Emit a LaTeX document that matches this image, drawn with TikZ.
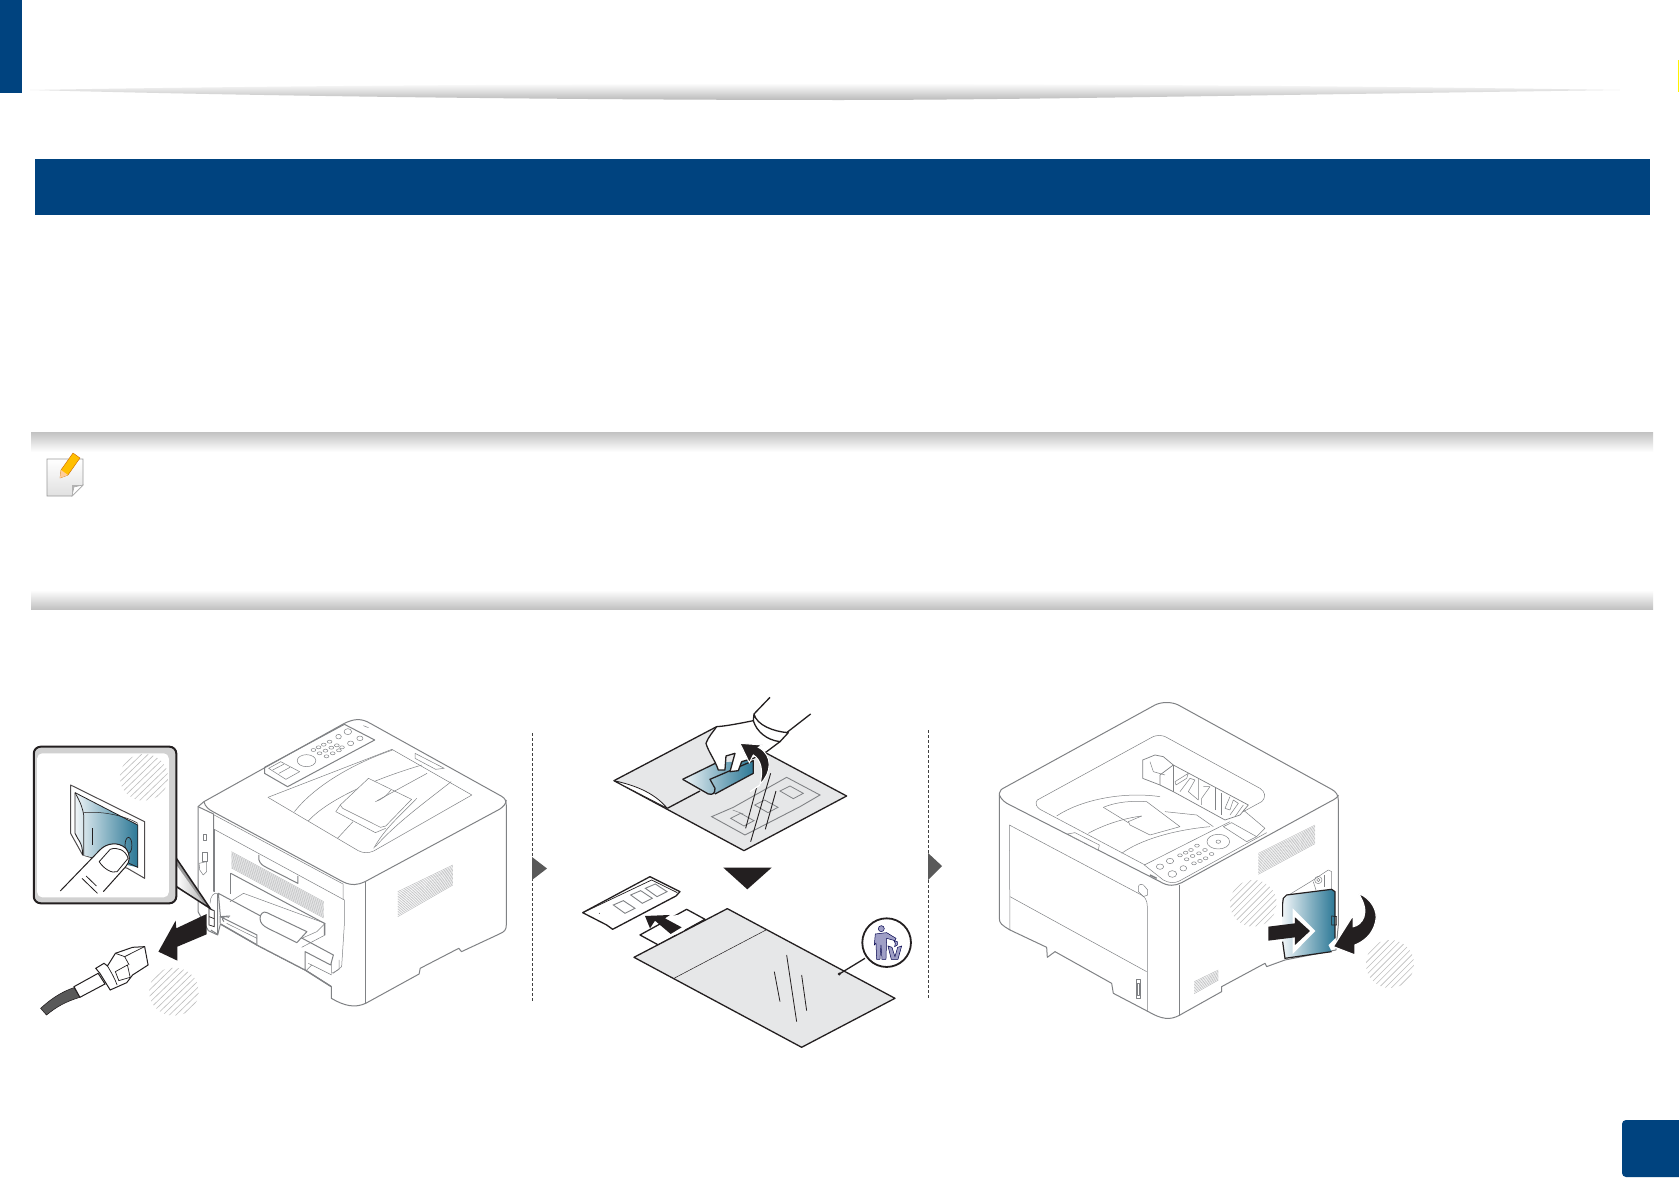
\documentclass[tikz,border=0pt]{standalone}
\usepackage{xcolor}
\definecolor{bandblue}{HTML}{00437F}
\definecolor{ink}{HTML}{231F20}
\definecolor{sheet}{HTML}{E6E7E8}
\definecolor{tealA}{HTML}{F0F5F8}
\definecolor{tealB}{HTML}{2C7896}
\definecolor{prline}{HTML}{808285}
\definecolor{hatchc}{HTML}{BEBEBE}
\tikzset{
  pr/.style={draw=prline,line width=1pt,line join=round},
  prt/.style={draw=prline,line width=.5pt,line join=round},
  vent/.style={draw=prline!60,line width=.4pt},
  inkline/.style={draw=ink,line width=1.3pt,line join=round},
  inkfill/.style={fill=ink,draw=none},
  graytri/.style={fill=black!65,draw=none},
  sep/.style={draw=black!75,line width=.7pt,dash pattern=on 3pt off 2pt},
  teal/.style={left color=tealA,right color=tealB,middle color=tealB!55!white}
}
\newcommand{\hatchdisc}[3]{%
  \begin{scope}
    \clip (#1,#2) circle (#3);
    \foreach \k in {-8,...,8}{
      \draw[hatchc,line width=.6pt] ({#1+\k*19-#3},{#2+#3}) -- ({#1+\k*19+#3},{#2-#3});
    }
  \end{scope}}
\begin{document}
\begin{tikzpicture}[x=1pt,y=-1pt]
\useasboundingbox (0,0) rectangle (1679,1191);
\fill[white] (0,0) rectangle (1679,1191);
% header
\fill[bandblue] (0,0) rectangle (22,93);
\begin{scope}
  \clip (30,90) .. controls (500,82) and (1100,82) .. (1620,90) .. controls (1200,96) and (1000,100) .. (840,100) .. controls (600,100) and (300,97) .. (30,90) -- cycle;
  \shade[top color=white,bottom color=black!27] (30,83) rectangle (1620,100);
\end{scope}
\fill[yellow] (1678,60) rectangle (1679,92);
\fill[bandblue] (35,159) rectangle (1650,215);
% note bands
\shade[top color=black!24,bottom color=white] (31,432) rectangle (1653,452);
\shade[top color=white,bottom color=black!24] (31,590) rectangle (1653,609);
% note icon
\shade[top color=white,bottom color=black!12,draw=black!40,line width=.8pt] (47,459) -- (83,459) -- (83,485) -- (72,496) -- (47,496) -- cycle;
\fill[black!30] (72,496) -- (72,485) -- (83,485) -- cycle;
\fill[white,draw=black!35,line width=.5pt] (72,496) -- (74,487) -- (83,485) -- cycle;
\fill[orange!50!yellow,draw=orange!80!black,line width=.4pt] (60,478) -- (61,470) -- (73,453) -- (80,458) -- (68,475) -- cycle;
\fill[orange!40!white] (60,478) -- (61,470) -- (68,475) -- cycle;
% page box
\fill[bandblue,rounded corners=4pt] (1622,1120) rectangle (1690,1177);
% separators
\draw[sep] (532,733) -- (532,1001);
\draw[sep] (928,730) -- (928,998);
\fill[graytri] (532,857) -- (547,868.5) -- (532,880) -- cycle;
\fill[graytri] (928,853) -- (942,866) -- (928,880) -- cycle;

% ================= PANEL 1
\begin{scope}[shift={(0,690)},xscale=.3444,yscale=.3333]
  % printer body
  \draw[pr,fill=white] (592,335) -- (1000,100) .. controls (1030,85) and (1050,85) .. (1075,100) -- (1455,318) .. controls (1468,325) and (1470,335) .. (1470,345) -- (1470,705) .. controls (1470,720) and (1465,725) .. (1450,732) -- (1340,785) -- (1332,775) -- (1220,835) -- (1217,852) -- (1062,940) .. controls (1030,955) and (1000,948) .. (962,925) -- (962,890) -- (886,840) -- (746,765) -- (640,702) -- (632,735) -- (605,722) -- (575,665) -- (575,350) -- cycle;
  \draw[pr,line width=1.4pt] (640,702) -- (746,765) -- (886,840) -- (962,890);
  \draw[pr] (592,335) .. controls (596,350) and (605,358) .. (620,366) -- (995,575) .. controls (1020,588) and (1040,585) .. (1060,575) -- (1450,358) .. controls (1462,350) and (1470,340) .. (1470,330);
  \draw[pr] (1060,575) -- (1060,940);
  \draw[pr] (575,350) -- (620,372) -- (620,605);
  \draw[prt] (622,418) -- (1000,630) -- (1000,700) -- (992,830) -- (968,850);
  \draw[prt] (622,375) -- (996,582) -- (996,630);
  \draw[prt] (622,418) -- (622,605);
  % small rear items
  \draw[prt] (591,432) rectangle (600,450);
  \draw[prt] (588,487) rectangle (602,515);
  \draw[prt] (578,520) -- (600,515) -- (600,545) -- (590,555) -- (580,540) -- cycle;
  \draw[ink,line width=.7pt] (607,655) -- (622,662) -- (622,710) -- (607,705) -- cycle;
  \draw[ink,line width=.7pt] (607,680) -- (622,686);
  \draw[pr] (612,720) -- (632,733) -- (632,612);
  \draw[prt] (610,640) .. controls (610,620) and (620,605) .. (635,610);
  % vents
  \foreach \i in {0,...,14}{\draw[vent] (672,{485+\i*3.5}) -- (940,{635+\i*3.5});}
  \foreach \i in {0,...,15}{\draw[vent] (1155,{605+\i*5}) -- (1315,{525+\i*4});}
  \draw[pr,fill=white] (752,495) -- (752,510) .. controls (755,522) and (765,528) .. (775,533) -- (865,580) -- (865,558);
  \draw[pr] (670,550) -- (942,700) -- (942,735);
  \draw[pr] (670,550) -- (670,612);
  % flap
  \draw[pr,fill=white] (634,610) -- (968,795) -- (960,825) -- (886,785) -- (886,840) -- (746,765) -- (746,735) -- (640,680) -- cycle;
  \draw[prt] (668,635) -- (707,610) -- (944,700) -- (944,735) -- (876,772);
  \draw[pr,fill=white] (755,685) .. controls (755,672) and (765,662) .. (775,668) -- (891,725) -- (862,758) -- (778,715) .. controls (765,708) and (755,700) .. (755,685) -- cycle;
  \draw[prt] (876,745) -- (920,725) -- (944,700);
  \draw[prt] (658,700) -- (746,745);
  \draw[prt] (895,820) -- (905,825) -- (963,855);
  \draw[prt] (891,840) -- (905,825);
  \draw[prt] (963,820) -- (963,850) -- (985,838) -- (985,810);
  \draw[pr] (639,700) -- (639,680) -- (668,678);
  \draw[pr] (650,695) .. controls (640,685) and (650,675) .. (665,682);
  % control panel
  \draw[pr] (768,232) -- (1000,103) -- (1088,150) -- (835,290) -- (768,250) -- cycle;
  \draw[prt] (780,235) -- (815,215) -- (870,245) -- (830,268) -- cycle;
  \draw[prt] (792,240) -- (825,222);
  \draw[prt] (810,250) -- (842,232);
  \draw[prt] (890,212) ellipse (27 and 18);
  \draw[prt] (1010,125) ellipse (11 and 9);
  \draw[prt] (983,140) ellipse (8 and 7);
  \draw[prt] (1018,160) ellipse (9 and 7);
  \draw[prt] (1045,145) ellipse (9 and 7);
  \foreach \p in {(910,180),(925,172),(940,164),(957,155),(928,190),(945,182),(962,173),(978,166),(948,199),(966,190),(984,181),(993,172)}{\draw[prt] \p ellipse (7 and 4.5);}
  \draw[prt] (1055,107) -- (1070,113);
  % output tray
  \draw[prt] (778,322) -- (1138,178);
  \draw[prt] (1138,178) -- (1370,315) -- (1085,483) .. controls (1070,490) and (1055,490) .. (1040,482) -- (778,322);
  \draw[prt] (855,365) .. controls (920,280) and (1040,215) .. (1140,180);
  \draw[prt] (895,393) .. controls (960,320) and (1110,260) .. (1225,225);
  \draw[prt] (1085,475) .. controls (1120,410) and (1170,370) .. (1210,325);
  \draw[prt] (1090,470) .. controls (1150,400) and (1230,340) .. (1310,275);
  \draw[prt] (980,445) -- (1025,395);
  \draw[prt,fill=white] (1070,265) -- (1195,328) -- (1120,408) -- (1105,412) -- (995,355) -- (988,345) -- cycle;
  \draw[prt] (975,365) -- (1090,428) -- (1120,415);
  \draw[prt] (975,365) -- (988,345);
  \draw[prt] (1090,335) .. controls (1110,328) and (1125,315) .. (1135,300);
  \draw[prt] (1095,332) -- (1240,250);
  \draw[prt] (1205,190) -- (1290,235) -- (1265,238) -- (1205,205) -- cycle;
  % inset
  \fill[black!40] (512,505) -- (610,655) -- (512,590) -- cycle;
  \shade[left color=white,right color=black!30] (512,525) -- (598,650) -- (512,585) -- cycle;
  \draw[ink,line width=1.5pt] (512,505) -- (610,655) -- (512,590);
  \draw[ink,line width=2pt,fill=black!18,rounded corners=7pt] (98,170) rectangle (512,640);
  \fill[white,rounded corners=5pt] (108,190) rectangle (490,622);
  \hatchdisc{418}{262}{70}
  % switch
  \draw[pr,draw=ink!80,fill=white] (205,285) -- (420,395) -- (420,565) -- (370,535) -- (240,495) -- (205,430) -- cycle;
  \shade[teal] (218,308) -- (400,405) -- (400,532) -- (240,495) -- (232,460) -- (218,435) -- cycle;
  \draw[ink,line width=.8pt] (218,308) -- (400,405) -- (400,532) -- (375,520);
  \draw[ink,line width=.8pt] (218,308) -- (218,430) .. controls (225,450) and (240,455) .. (240,495);
  \draw[ink,line width=.7pt] (218,308) .. controls (235,340) and (240,355) .. (243,375) -- (243,495);
  \draw[ink,line width=.5pt] (243,368) .. controls (300,362) and (370,380) .. (400,400);
  \draw[ink,line width=.7pt] (268,415) -- (268,465);
  \draw[ink,line width=.7pt] (373,466) ellipse (10 and 24);
  \fill[white] (175,603) -- (290,480) .. controls (310,458) and (345,455) .. (365,475) .. controls (380,495) and (378,515) .. (365,530) -- (300,605) -- cycle;
  \draw[ink,line width=1pt] (175,603) -- (290,480) .. controls (310,458) and (345,455) .. (365,475) .. controls (380,495) and (378,515) .. (365,530) -- (300,605);
  \draw[ink,line width=.8pt] (288,515) -- (320,478) .. controls (340,470) and (365,480) .. (372,505) -- (340,545) .. controls (325,552) and (300,535) .. (288,515) -- cycle;
  \draw[ink,line width=.8pt] (238,565) -- (283,610);
  \draw[ink,line width=.8pt] (250,558) -- (280,588);
  % pull arrow
  \hatchdisc{505}{905}{72}
  \fill[inkfill] (600,672) -- (512,715) -- (510,692) -- (460,785) -- (515,812) -- (515,770) -- (600,733) -- cycle;
  % plug
  \fill[black!65,draw=ink,line width=.6pt] (118,955) .. controls (150,925) and (180,905) .. (215,893) -- (232,922) .. controls (190,935) and (165,950) .. (135,975) -- cycle;
  \draw[ink,line width=1pt,fill=white] (215,890) -- (285,850) -- (305,882) -- (232,922) -- cycle;
  \draw[ink,line width=1pt,fill=white] (278,835) -- (302,820) -- (312,828) -- (335,790) -- (385,772) -- (420,770) -- (430,825) -- (385,855) -- (368,878) -- (320,900) -- (308,880) -- (290,850) -- cycle;
  \draw[ink,line width=.7pt] (312,828) .. controls (325,850) and (335,870) .. (340,885);
  \draw[ink,line width=.7pt] (335,845) -- (370,825) -- (378,862) -- (345,872) -- cycle;
  \draw[ink,line width=.7pt] (335,790) -- (362,800) -- (375,825);
  \draw[ink,line width=.7pt] (362,800) -- (420,770);
\end{scope}

% ================= PANEL 2
\begin{scope}[shift={(540,690)},scale=.3333]
  % upper sheet
  \draw[inkline,fill=sheet] (222,272) -- (530,110) -- (920,318) -- (612,482) -- cycle;
  \draw[inkline,fill=white,line width=.8pt] (222,272) .. controls (280,285) and (340,305) .. (382,355) -- cycle;
  \draw[inkline] (382,355) -- (480,303);
  % ghost module
  \draw[prline,line width=.9pt] (515,380) -- (580,352) -- (740,262) -- (840,315) -- (780,350) -- (615,435) -- cycle;
  \draw[prline,line width=.5pt] (578,360) -- (610,372);
  \foreach \dx/\dy in {0/0,72/-40,148/-82}{
    \draw[prline,line width=.8pt] ({572+\dx},{385+\dy}) -- ({602+\dx},{370+\dy}) -- ({642+\dx},{392+\dy}) -- ({612+\dx},{408+\dy}) -- cycle;}
  \draw[inkline,line width=.9pt] (650,292) -- (617,415);
  \draw[inkline,line width=.9pt] (692,250) -- (632,455);
  \draw[inkline,line width=.9pt] (708,303) -- (676,418);
  % tab
  \shade[teal] (428,268) -- (530,218) -- (640,212) -- (640,250) -- (525,312) -- (505,312) -- cycle;
  \draw[inkline] (428,268) -- (530,218);
  \draw[inkline] (428,268) -- (505,312) .. controls (520,315) and (525,310) .. (525,295) -- (510,268) -- (640,212) -- (640,250) -- (525,312);
  % hand
  \draw[inkline,fill=white] (530,110) .. controls (560,108) and (600,100) .. (640,92) -- (720,155) -- (680,185) -- (640,205) -- (605,215) -- (595,242) -- (570,245) -- (585,190) -- (558,198) -- (555,240) -- (535,240) .. controls (525,210) and (505,185) .. (498,160) .. controls (505,140) and (520,125) .. (530,110) -- cycle;
  \draw[inkline] (642,72) -- (690,22);
  \draw[inkline] (740,128) -- (812,72);
  \draw[inkline,fill=white] (642,72) .. controls (650,105) and (700,125) .. (745,128) -- (720,155) .. controls (680,150) and (650,125) .. (640,92) -- cycle;
  % curved arrow
  \draw[white,line width=1pt,fill=ink] (660,282) .. controls (695,250) and (700,195) .. (655,172) -- (668,165) -- (600,160) -- (628,218) -- (640,195) .. controls (665,210) and (670,245) .. (660,282) -- cycle;
  \draw[white,line width=1.2pt] (630,305) -- (660,285);
  % down triangle
  \fill[inkfill] (550,533) -- (695,533) -- (622,598) -- cycle;
  % module
  \draw[inkline,fill=white] (128,668) -- (330,560) -- (420,605) -- (408,618) -- (218,718) -- (200,705) -- cycle;
  \draw[ink,line width=.7pt] (135,665) -- (335,570) -- (412,608);
  \foreach \dx/\dy in {0/0,52/-30,96/-50}{
    \draw[prline,line width=.9pt] ({220+\dx},{645+\dy}) -- ({250+\dx},{632+\dy}) -- ({285+\dx},{655+\dy}) -- ({255+\dx},{670+\dy}) -- cycle;}
  \fill[ink] (178,670) circle (1.5);
  % back sheet tabs
  \draw[inkline,fill=white] (300,735) -- (440,658) -- (495,688) -- (355,765) -- cycle;
  \fill[white] (380,680) -- (445,670) -- (450,700) -- (420,735) -- (370,730) -- cycle;
  \fill[inkfill] (315,678) -- (390,675) -- (375,685) -- (425,712) -- (392,732) -- (345,692) -- (330,715) -- cycle;
  % lower sheet
  \draw[inkline,fill=sheet] (282,802) -- (562,656) -- (1065,925) -- (785,1072) -- cycle;
  \draw[ink,line width=.5pt] (402,865) -- (678,720);
  \draw[ink,line width=.8pt] (740,795) -- (770,995);
  \draw[ink,line width=.8pt] (703,845) -- (720,935);
  \draw[ink,line width=.8pt] (785,855) -- (800,962);
  % trash badge
  \fill[ink] (898,852) circle (5);
  \draw[ink,line width=1.3pt] (898,852) -- (975,805);
  \draw[ink,line width=1.8pt,fill=white] (1040,758) circle (73);
  \begin{scope}[draw=blue!30!black,fill=blue!25!gray!60,line width=.5pt]
    \filldraw (1024,716) circle (9);
    \filldraw (1006,732) -- (1040,728) -- (1068,745) -- (1065,752) -- (1040,745) -- (1038,808) -- (1026,808) -- (1023,765) -- (1020,808) -- (1010,808) -- (1008,760) -- (1003,765) -- cycle;
    \filldraw (1044,768) -- (1056,772) -- (1065,800) -- (1073,772) -- (1085,768) -- (1074,808) -- (1054,808) -- cycle;
    \filldraw (1062,752) -- (1072,755) -- (1072,765) -- (1064,770) -- (1066,760) -- cycle;
  \end{scope}
\end{scope}

% ================= PANEL 3
\begin{scope}[shift={(960,690)},scale=.3333]
  \draw[pr,fill=white] (118,310) .. controls (120,300) and (125,297) .. (135,292) -- (585,45) .. controls (605,35) and (635,35) .. (655,45) -- (1115,298) .. controls (1128,305) and (1135,315) .. (1135,330) -- (1135,705) -- (1128,780) -- (975,810) -- (920,830) -- (915,820) -- (785,890) -- (785,905) -- (660,975) .. controls (630,992) and (605,988) .. (565,965) -- (460,910) -- (455,880) -- (285,785) -- (262,802) -- (260,772) -- (150,720) .. controls (125,705) and (118,700) .. (118,685) -- cycle;
  \draw[pr] (118,315) .. controls (125,330) and (135,338) .. (150,345) -- (600,575) .. controls (625,590) and (645,588) .. (665,578) -- (1110,335) .. controls (1125,328) and (1135,320) .. (1135,315);
  \draw[pr] (658,585) -- (658,978);
  % front cover
  \draw[prt] (148,405) -- (150,720);
  \draw[prt] (148,405) -- (535,610) .. controls (555,618) and (562,630) .. (562,650) -- (562,965);
  \draw[prt] (150,620) -- (560,845);
  \draw[prt,fill=white] (322,432) -- (345,428) -- (418,465) -- (415,480) -- cycle;
  \draw[prt] (535,590) .. controls (535,582) and (550,580) .. (555,590) -- (563,600) -- (563,615) -- (550,620) -- (535,605) -- cycle;
  \draw[prt] (528,868) -- (540,868) -- (540,925) -- (528,925) -- cycle;
  \draw[prt] (531,880) -- (537,880) -- (537,915) -- (531,915) -- cycle;
  % recess
  \draw[prt] (232,330) -- (570,145) .. controls (590,133) and (605,133) .. (625,145) -- (900,295) .. controls (915,305) and (920,320) .. (905,335) -- (850,365);
  \draw[prt] (232,330) .. controls (225,340) and (228,350) .. (240,358) -- (555,525);
  % tray
  \draw[prt] (290,378) .. controls (370,325) and (500,305) .. (600,320);
  \draw[prt] (385,430) .. controls (430,405) and (490,385) .. (545,378);
  \draw[prt] (485,490) .. controls (540,450) and (640,420) .. (750,410);
  \draw[prt] (430,352) .. controls (470,335) and (520,332) .. (560,335) -- (660,410) -- (570,435) -- (510,405) -- (505,395) -- (545,378);
  \draw[prt] (430,352) -- (505,398);
  \draw[prt] (615,365) -- (710,375) -- (760,410);
  % feeder
  \begin{scope}[shift={(510,150)}]
    \draw[prt,line width=.7pt] (38,60) -- (75,45) -- (100,50) -- (130,75) -- (355,195) -- (330,225) -- (285,240) -- (130,155) -- (90,135) -- (38,115) -- cycle;
    \draw[prt,line width=.7pt] (130,75) -- (130,155);
    \draw[prt,line width=.7pt] (90,135) -- (90,105) -- (130,75);
    \draw[prt] (60,65) -- (70,95) -- (105,105);
    \draw[prt] (135,125) -- (175,100) -- (170,115) -- (138,135) -- cycle;
    \draw[prt] (150,155) -- (180,115) -- (195,120) -- (175,155) -- (205,180) -- (205,115);
    \draw[prt] (220,140) -- (240,140) -- (215,175) -- (215,195);
    \draw[prt] (255,145) -- (255,210);
    \draw[prt] (275,160) -- (275,225);
    \draw[prt] (300,170) -- (285,205) -- (300,210) -- (310,180) -- (325,190) -- (300,225);
    \draw[prt] (340,195) -- (315,230);
    % panel surround
    \draw[prt] (340,210) -- (405,265) -- (380,290);
    \draw[prt] (280,260) -- (305,248) -- (380,290) -- (350,305) -- cycle;
  \end{scope}
  % control panel
  \draw[prt] (553,525) -- (810,395);
  \draw[prt] (553,525) -- (610,570) .. controls (625,578) and (640,582) .. (660,572) -- (920,428);
  \draw[prt] (775,455) ellipse (34 and 22);
  \draw[prt] (775,455) ellipse (7 and 5);
  \foreach \p in {(660,496),(677,488),(693,480),(711,467),(680,508),(698,498),(717,490),(735,480),(702,520),(720,513),(737,505),(755,492)}{\draw[prt] \p ellipse (7 and 4.5);}
  \foreach \p in {(600,530),(630,513)}{\draw[prt] \p ellipse (11 and 8);}
  \draw[prt] (637,552) ellipse (13 and 10);
  \draw[prt] (670,535) ellipse (10 and 8);
  \draw[prline,line width=1.5pt] (570,555) -- (590,565);
  % vents
  \foreach \i in {0,...,14}{\draw[vent] (895,{490+\i*4.5}) -- (1065,{405+\i*4});}
  \foreach \i in {0,...,8}{\draw[vent] (703,{875+\i*4.5}) -- (775,{840+\i*3.8});}
  % hatch, door recess
  \hatchdisc{880}{640}{70}
  \hatchdisc{1290}{822}{72}
  \draw[prt] (970,625) -- (1060,570) -- (1105,540) -- (1115,545) -- (1115,600);
  \draw[prt] (1092,555) -- (1092,590);
  \draw[prt] (1075,570) circle (11);
  \draw[prt] (1075,570) circle (5);
  \draw[prt] (1060,575) -- (1068,600);
  % door
  \shade[teal] (970,625) -- (980,615) -- (1115,598) -- (1125,605) -- (1125,745) -- (1105,765) -- (1115,785) -- (975,805) -- (968,755) -- (968,640) -- cycle;
  \draw[ink,line width=1.2pt] (968,755) -- (975,805) -- (1115,785);
  \draw[ink,line width=1.2pt] (968,680) -- (968,640) -- (970,625) -- (980,615) -- (1115,598) -- (1125,605) -- (1125,745);
  \draw[ink,line width=.7pt] (1115,678) -- (1130,680) -- (1130,705) -- (1115,705) -- cycle;
  % arrows
  \fill[white] (998,655) -- (1066,723) -- (998,792) -- cycle;
  \fill[inkfill] (925,710) -- (1005,700) -- (1005,682) -- (1050,723) -- (1005,765) -- (1005,742) -- (925,752) -- cycle;
  \draw[white,line width=1.2pt,fill=ink] (1195,610) .. controls (1235,625) and (1255,665) .. (1247,695) .. controls (1238,735) and (1210,755) .. (1185,765) -- (1185,795) -- (1120,770) -- (1180,675) -- (1180,710) .. controls (1205,705) and (1235,670) .. (1195,610) -- cycle;
\end{scope}
\end{tikzpicture}
\end{document}
